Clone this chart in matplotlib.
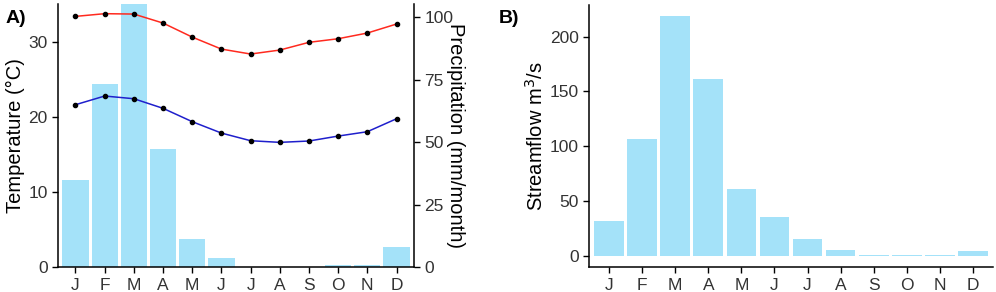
import matplotlib
matplotlib.use("Agg")
import matplotlib.pyplot as plt
import numpy as np

plt.rcParams['font.family'] = ['Liberation Sans', 'DejaVu Sans']

months = ['J', 'F', 'M', 'A', 'M', 'J', 'J', 'A', 'S', 'O', 'N', 'D']
precip = [35, 73.2, 108, 47.2, 11.4, 3.7, 0, 0, 0, 1, 1, 8.1]
tmax = [33.46, 33.82, 33.77, 32.57, 30.7, 29.1, 28.44, 28.97, 30.0, 30.48, 31.24, 32.44]
tmin = [21.68, 22.84, 22.48, 21.2, 19.42, 17.9, 16.88, 16.66, 16.84, 17.5, 18.08, 19.81]
streamflow = [32.4, 106.9, 218.5, 161.5, 61.5, 36, 16, 6, 1.5, 1, 1, 5.1]

bar_color = '#A4E2F9'
tick_col = '#333333'

fig = plt.figure(figsize=(9.96, 2.92), dpi=100)
x = np.arange(len(months))

# --- panel A ---
axT = fig.add_axes([0.0582, 0.0846, 0.3575, 0.9014])
axP = axT.twinx()
# precipitation bars behind the temperature lines
axT.set_zorder(axP.get_zorder() + 1)
axT.patch.set_visible(False)

axP.bar(x, precip, width=0.9, color=bar_color, edgecolor='none')
axP.set_ylim(0, 105.3)
axP.set_yticks([0, 25, 50, 75, 100])
axP.set_ylabel('Precipitation (mm/month)', fontsize=14.5, rotation=-90, labelpad=8)

axT.plot(x, tmax, color='#FF2A1F', lw=1.1)
axT.plot(x, tmin, color='#1F1FCC', lw=1.1)
axT.scatter(x, tmax, s=9, color='black', zorder=3)
axT.scatter(x, tmin, s=9, color='black', zorder=3)
axT.set_ylim(0, 35.1)
axT.set_yticks([0, 10, 20, 30])
axT.set_xlim(-0.6, 11.6)
axT.set_xticks(x)
axT.set_xticklabels(months)
axT.set_ylabel('Temperature (°C)', fontsize=14.5, labelpad=2)

for ax in (axT, axP):
    ax.spines['top'].set_visible(False)
    ax.tick_params(labelsize=12.5, labelcolor=tick_col, length=4, width=1)
    for s in ax.spines.values():
        s.set_linewidth(1.1)
axT.spines['right'].set_visible(False)
axP.spines['left'].set_visible(False)
axP.spines['bottom'].set_visible(False)

fig.text(0.006, 0.92, 'A)', fontsize=14, fontweight='bold')

# --- panel B ---
axB = fig.add_axes([0.5917, 0.0846, 0.405, 0.8994])
axB.bar(x, streamflow, width=0.9, color=bar_color, edgecolor='none')
axB.set_xlim(-0.6, 11.6)
axB.set_ylim(-10, 229)
axB.set_yticks([0, 50, 100, 150, 200])
axB.set_xticks(x)
axB.set_xticklabels(months)
axB.set_ylabel('Streamflow m$^3$/s', fontsize=14.5, labelpad=2)
axB.spines['top'].set_visible(False)
axB.spines['right'].set_visible(False)
for s in axB.spines.values():
    s.set_linewidth(1.1)
axB.tick_params(labelsize=12.5, labelcolor=tick_col, length=4, width=1)

fig.text(0.501, 0.92, 'B)', fontsize=14, fontweight='bold')

fig.savefig('out.png', dpi=100)
